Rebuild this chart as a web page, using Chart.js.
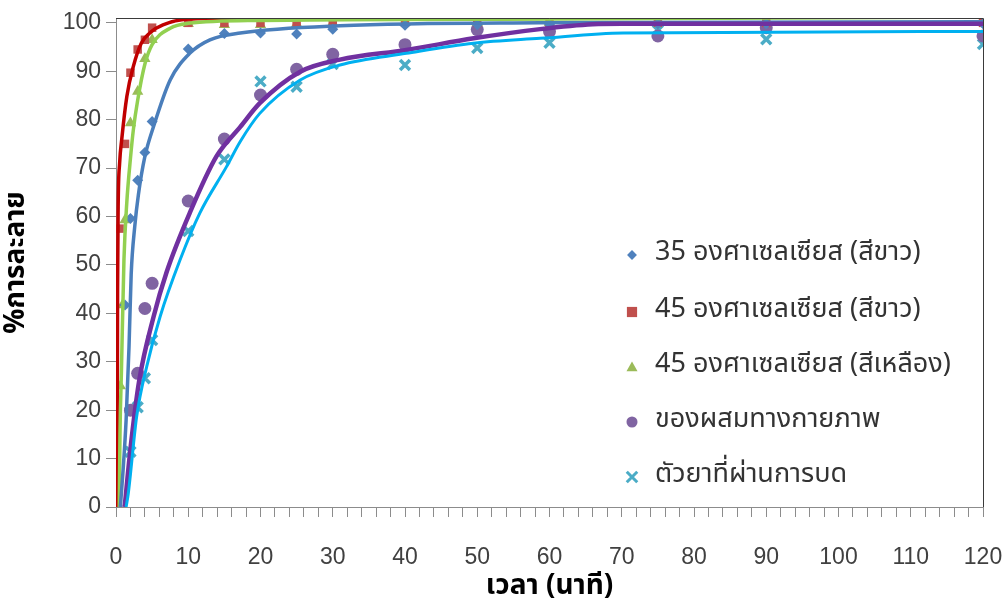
<!DOCTYPE html>
<html>
<head>
<meta charset="utf-8">
<script src="https://cdn.jsdelivr.net/npm/chart.js@4/dist/chart.umd.min.js"></script>
<style>
html,body{margin:0;padding:0;background:#fff;}
#wrap{width:1005px;height:605px;position:relative;}
</style>
</head>
<body>
<div id="wrap"><canvas id="c" width="1005" height="605"></canvas></div>
<script>
// ---------- data ----------
const seriesNames = [
  '35 องศาเซลเซียส (สีขาว)',
  '45 องศาเซลเซียส (สีขาว)',
  '45 องศาเซลเซียส (สีเหลือง)',
  'ของผสมทางกายภาพ',
  'ตัวยาที่ผ่านการบด'
];
const xTickLabels = [0,10,20,30,40,50,60,70,80,90,100,110,120];
const yTickLabels = [0,10,20,30,40,50,60,70,80,90,100];

// measured points
const t35w = [0, 0.1, 0.2, 1.25, 2, 3, 4, 5, 10, 15, 20, 25, 30, 40, 50, 60, 75, 90, 120];
const p35w = [0, 4, 6, 41.7, 59.6, 67.5, 73.2, 79.6, 94.6, 97.8, 97.9, 97.7, 98.7, 99.5, 99.6, 99.7, 99.8, 99.8, 99.8];

const t45w = [0, 0.5, 1.25, 2, 3, 4, 5, 10, 15, 20, 25, 30, 40, 50, 60, 75, 90, 120];
const p45w = [0, 57.5, 75, 89.7, 94.5, 96.5, 99, 100, 100, 100, 100, 100, 100, 100, 100, 100, 100, 100];

const t45y = [0, 0.6, 0.9, 1.25, 2, 3, 4, 5, 10, 15, 20, 25, 30, 40, 50, 60, 75, 90, 120];
const p45y = [0, 25, 41.7, 59.3, 79.3, 85.8, 92.6, 96.5, 99.8, 99.6, 99.6, 99.8, 100, 100, 100, 100, 100, 100, 100];

const tMix = [0, 2, 3, 4, 5, 10, 15, 20, 25, 30, 40, 50, 60, 75, 90, 120];
const pMix = [0, 20, 27.6, 41, 46.2, 63.2, 76, 85.1, 90.4, 93.5, 95.5, 98.6, 98.2, 97.3, 99, 97.3];

const tDrug = [0, 2, 3, 4, 5, 10, 15, 20, 25, 30, 40, 50, 60, 75, 90, 120];
const pDrug = [0, 11.4, 20.6, 26.6, 34.5, 57, 71.8, 87.9, 86.8, 91.5, 91.3, 94.8, 95.9, 98.5, 96.6, 95.6];

// fitted curves
const fit35wX = [0.6, 1.0, 1.4, 1.8, 2.1, 2.6, 3.1, 4, 5.2, 7.5, 10.2, 13, 17.2, 31, 58.7, 120];
const fit35wY = [0, 8, 18, 33, 48, 58, 64.5, 72.4, 78.6, 88.2, 93.7, 96.5, 97.9, 99.4, 100, 100.2];

const fit45wX = [0, 0.15, 0.22, 0.3, 0.5, 0.8, 1.5, 2.4, 3.5, 4.9, 6.5, 10, 20, 120];
const fit45wY = [0, 0, 45, 62, 71, 76, 84.8, 91, 95.8, 98.2, 99.6, 100.8, 101.1, 101.2];

const fit45yX = [0.45, 0.55, 0.75, 1.1, 1.5, 2, 2.4, 3, 4, 5, 7.5, 10, 20, 60, 120];
const fit45yY = [0, 15, 28, 51, 63, 72, 77.9, 84, 91.5, 95.5, 98.9, 99.9, 100.5, 100.8, 101.2];

const fitMixX = [1.2, 2, 3.2, 5.2, 7, 10.2, 13.9, 17.2, 19.9, 25.5, 31, 40.2, 49.5, 58.7, 66, 70, 120];
const fitMixY = [0, 12, 26, 39.3, 48.5, 60.7, 72.4, 78.5, 83.4, 89.9, 92.4, 94.4, 96.8, 98.7, 99.7, 99.8, 99.8];

const fitDrugX = [1.4, 1.7, 2.86, 4.25, 6.1, 8.86, 11.6, 15.3, 17.2, 19.9, 25.5, 31, 40.2, 49.5, 58.7, 70.2, 120];
const fitDrugY = [0, 2.8, 18.7, 29, 39.3, 51, 60.7, 70.3, 75.5, 81.3, 88.2, 91.3, 93.7, 95.8, 96.8, 97.9, 98.2];

// ---------- helpers ----------
const pts = (xs, ys) => xs.map((x, i) => ({x: x, y: ys[i]}));
const THAI = '"Noto Sans Thai", "Noto Sans Thai Looped", Loma, Garuda, "Tlwg Typo", "Noto Sans", "DejaVu Sans", sans-serif';
const NUM = '"Liberation Sans", Arial, sans-serif';

const markerDefs = [
  {style:'rectRot', r:5.5, fill:'#4f81bd'},
  {style:'rect', r:6, fill:'#c0504d'},
  {style:'triangle', r:6.5, fill:'#9bbb59'},
  {style:'circle', r:6.5, fill:'#8064a2'},
  {style:'crossRot', r:7, fill:'#4bacc6'}
];

function lineDs(xs, ys, color, w, extra) {
  return Object.assign({
    data: pts(xs, ys), showLine: true, borderColor: color, borderWidth: w,
    pointRadius: 0, pointHoverRadius: 0, cubicInterpolationMode: 'monotone',
    fill: false, order: 0
  }, extra || {});
}
function pointDs(xs, ys, m, label) {
  const cross = m.style === 'crossRot';
  return {
    label: label, data: pts(xs, ys), showLine: false,
    pointStyle: m.style, pointRadius: m.r, pointHoverRadius: m.r,
    backgroundColor: m.fill, borderColor: m.fill,
    borderWidth: cross ? 3.5 : 0, order: 2
  };
}

const datasets = [
  pointDs(t35w, p35w, markerDefs[0], seriesNames[0]),
  pointDs(t45w, p45w, markerDefs[1], seriesNames[1]),
  pointDs(t45y, p45y, markerDefs[2], seriesNames[2]),
  pointDs(tMix, pMix, markerDefs[3], seriesNames[3]),
  pointDs(tDrug, pDrug, markerDefs[4], seriesNames[4]),
  lineDs(fitDrugX, fitDrugY, '#00b0f0', 3),
  lineDs(fitMixX, fitMixY, '#7030a0', 4.5),
  lineDs(fitMixX, fitMixY, '#b79ad6', 1.5, {borderDash:[3,3]}),
  lineDs(fit35wX, fit35wY, '#4a7ebb', 3.5),
  lineDs(fit35wX, fit35wY, '#a9c1e0', 1.3, {borderDash:[3,3]}),
  lineDs(fit45yX, fit45yY, '#92d050', 3.5),
  lineDs(fit45wX, fit45wY, '#c00000', 3.5)
];

// ---------- plugins ----------
const framePlugin = {
  id: 'frame',
  afterDatasetsDraw(chart) {
    const {ctx, chartArea: a} = chart;
    ctx.save();
    ctx.strokeStyle = '#3a3a3a';
    ctx.lineWidth = 1;
    ctx.beginPath();
    ctx.moveTo(a.left, Math.round(a.top) + 0.5);
    ctx.lineTo(Math.round(a.right) + 0.5, Math.round(a.top) + 0.5);
    ctx.lineTo(Math.round(a.right) + 0.5, a.bottom);
    ctx.stroke();
    ctx.restore();
  }
};

function drawMarker(ctx, m, x, y) {
  ctx.save();
  ctx.fillStyle = m.fill; ctx.strokeStyle = m.fill;
  ctx.beginPath();
  if (m.style === 'rectRot') {
    const s = m.r * 0.9;
    ctx.moveTo(x, y - s); ctx.lineTo(x + s, y); ctx.lineTo(x, y + s); ctx.lineTo(x - s, y); ctx.closePath(); ctx.fill();
  } else if (m.style === 'rect') {
    const s = m.r * 0.85; ctx.rect(x - s, y - s, 2 * s, 2 * s); ctx.fill();
  } else if (m.style === 'triangle') {
    const s = m.r * 0.85; ctx.moveTo(x, y - s); ctx.lineTo(x + s, y + s * 0.75); ctx.lineTo(x - s, y + s * 0.75); ctx.closePath(); ctx.fill();
  } else if (m.style === 'circle') {
    ctx.arc(x, y, m.r * 0.85, 0, Math.PI * 2); ctx.fill();
  } else {
    const s = m.r * 0.75; ctx.lineWidth = 3;
    ctx.moveTo(x - s, y - s); ctx.lineTo(x + s, y + s); ctx.moveTo(x + s, y - s); ctx.lineTo(x - s, y + s); ctx.stroke();
  }
  ctx.restore();
}

const legendRowsY = [255, 312, 367, 422, 477];
const legendPlugin = {
  id: 'insideLegend',
  afterDraw(chart) {
    const ctx = chart.ctx;
    ctx.save();
    ctx.font = '27px ' + THAI;
    ctx.fillStyle = '#333333';
    ctx.textBaseline = 'middle';
    ctx.textAlign = 'left';
    seriesNames.forEach((name, i) => {
      drawMarker(ctx, markerDefs[i], 632, legendRowsY[i]);
      ctx.fillText(name, 655, legendRowsY[i]);
    });
    ctx.restore();
  }
};

// ---------- chart ----------
new Chart(document.getElementById('c'), {
  type: 'scatter',
  data: { datasets: datasets },
  options: {
    responsive: false,
    animation: false,
    events: [],
    layout: { padding: { left: 0, right: 22, top: 18, bottom: 0 } },
    plugins: { legend: { display: false }, tooltip: { enabled: false } },
    scales: {
      x: {
        type: 'linear', min: 0, max: 120,
        afterFit(s) { s.height = 98; s.paddingLeft = 0; s.paddingRight = 0; },
        afterBuildTicks(s) {
          const t = [];
          for (let v = 0; v <= 120; v += 2) t.push({value: v});
          s.ticks = t;
        },
        ticks: {
          autoSkip: false, maxRotation: 0, padding: 27,
          color: '#404040', font: { family: NUM, size: 23 },
          callback: (v) => xTickLabels.includes(v) ? String(v) : ''
        },
        grid: { drawOnChartArea: false, drawTicks: true, tickLength: 10, color: '#8c8c8c' },
        border: { display: true, color: '#8c8c8c', width: 1 },
        title: {
          display: true, text: 'เวลา (นาที)', color: '#000',
          font: { family: THAI, size: 28, weight: 'bold' },
          padding: { top: 0, bottom: 0 }
        }
      },
      y: {
        type: 'linear', min: 0, max: 101,
        afterFit(s) { s.width = 116; s.paddingTop = 0; s.paddingBottom = 0; },
        afterBuildTicks(s) { s.ticks = yTickLabels.map(v => ({value: v})); },
        ticks: {
          padding: 5, color: '#404040', font: { family: NUM, size: 23 },
          callback: (v) => String(v)
        },
        grid: { drawOnChartArea: false, drawTicks: true, tickLength: 10, color: '#8c8c8c' },
        border: { display: true, color: '#8c8c8c', width: 1 },
        title: {
          display: true, text: '%การละลาย', color: '#000',
          font: { family: THAI, size: 28, weight: 'bold' },
          padding: { top: 2, bottom: 0 }
        }
      }
    }
  },
  plugins: [framePlugin, legendPlugin]
});
</script>
</body>
</html>
